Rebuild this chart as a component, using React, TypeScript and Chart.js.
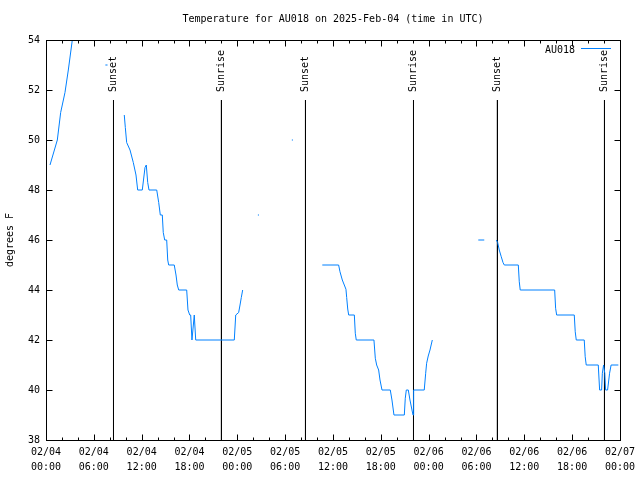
import React, { useEffect, useRef } from "react";
import { Chart, registerables } from "chart.js";

Chart.register(...registerables);

const FONT_FAMILY = '"DejaVu Sans Mono", "Liberation Mono", monospace';
const TITLE = "Temperature for AU018 on 2025-Feb-04 (time in UTC)";
const Y_TITLE = "degrees F";
const SERIES_NAME = "AU018";
const LINE_COLOR = "rgb(0,128,255)";

// hours since 02/04 00:00 UTC; null temperature = gap in the record
const hours: number[] = [
  0.5, 1.42, 1.84, 2.38, 2.8, 3.3, 3.31,
  7.45, 7.72, 7.73,
  9.82, 9.95, 10.12, 10.54, 10.95, 11.29, 11.5, 12.08, 12.42, 12.58, 12.76, 12.92, 13.89, 14.14, 14.34, 14.59, 14.71, 14.89, 15.14, 15.27, 15.39, 16.09, 16.31, 16.47, 16.65, 17.65, 17.81, 18.03, 18.15, 18.31, 18.6, 18.78, 23.62, 23.8, 24.17, 24.34, 24.5, 24.67, 24.68,
  26.58, 26.72, 26.73,
  30.84, 30.98, 30.99,
  34.66, 36.71, 36.88, 37.17, 37.42, 37.63, 37.72, 37.85, 37.97, 38.68, 38.8, 38.92, 41.14, 41.31, 41.48, 41.73, 41.9, 42.15, 43.19, 43.4, 43.65, 44.95, 45.07, 45.2, 45.45, 45.66, 45.91, 46.04, 46.12, 47.45, 47.63, 47.75, 47.95, 48.17, 48.46, 48.47,
  54.23, 54.98, 54.99,
  56.49, 56.66, 56.86, 57.11, 57.33, 57.49, 59.25, 59.37, 59.49, 63.81, 63.93, 64.06, 66.27, 66.39, 66.52, 67.52, 67.64, 67.77, 69.28, 69.45, 69.7, 69.79, 69.95, 70.1, 70.2, 70.45, 70.7, 70.89, 71.8,
];
const temps: (number | null)[] = [
  49.0, 50.0, 51.1, 51.9, 52.8, 54.0, null,
  53.0, 53.0, null,
  51.0, 50.5, 49.9, 49.6, 49.1, 48.6, 48.0, 48.0, 48.9, 49.0, 48.3, 48.0, 48.0, 47.5, 47.0, 47.0, 46.3, 46.0, 46.0, 45.2, 45.0, 45.0, 44.6, 44.2, 44.0, 44.0, 43.2, 43.0, 43.0, 42.0, 43.0, 42.0, 42.0, 43.0, 43.1, 43.4, 43.7, 44.0, null,
  47.0, 47.0, null,
  50.0, 50.0, null,
  45.0, 45.0, 44.73, 44.4, 44.2, 44.03, 43.7, 43.24, 43.0, 43.0, 42.27, 42.0, 42.0, 41.27, 41.0, 40.8, 40.4, 40.0, 40.0, 39.6, 39.0, 39.0, 39.67, 40.0, 40.0, 39.6, 39.2, 39.0, 40.0, 40.0, 40.67, 41.07, 41.36, 41.6, 42.0, null,
  46.0, 46.0, null,
  46.0, 45.9, 45.6, 45.33, 45.1, 45.0, 45.0, 44.33, 44.0, 44.0, 43.27, 43.0, 43.0, 42.33, 42.0, 42.0, 41.33, 41.0, 41.0, 40.0, 40.0, 40.67, 41.0, 40.67, 40.0, 40.0, 40.67, 41.0, 41.0,
];

const sunHours: number[] = [8.467, 22.01, 32.55, 46.1, 56.63, 70.06];
const sunLabels: string[] = ["Sunset", "Sunrise", "Sunset", "Sunrise", "Sunset", "Sunrise"];
const sunLineTop = 51.6;

const tickDates: string[] = ["02/04", "02/04", "02/04", "02/04", "02/05", "02/05", "02/05", "02/05", "02/06", "02/06", "02/06", "02/06", "02/07"];
const tickTimes: string[] = ["00:00", "06:00", "12:00", "18:00", "00:00", "06:00", "12:00", "18:00", "00:00", "06:00", "12:00", "18:00", "00:00"];

const X_MIN = 0, X_MAX = 72, X_MAJOR = 6, X_MINOR = 2;
const Y_MIN = 38, Y_MAX = 54, Y_STEP = 2;

const decorPlugin = {
  id: "decor",
  afterDraw(chart: any) {
    const ctx = chart.ctx as CanvasRenderingContext2D;
    const area = chart.chartArea;
    const xs = chart.scales.x;
    const ys = chart.scales.y;
    ctx.save();
    ctx.fillStyle = "#000";
    ctx.strokeStyle = "#000";
    ctx.lineWidth = 1;
    ctx.font = `10px ${FONT_FAMILY}`;

    // frame
    const l = Math.round(area.left) + 0.5, r = Math.round(area.right) + 0.5;
    const t = Math.round(area.top) + 0.5, b = Math.round(area.bottom) + 0.5;
    ctx.strokeRect(l, t, r - l, b - t);

    // ticks (inward, mirrored)
    ctx.beginPath();
    for (let h = X_MIN; h <= X_MAX; h += X_MINOR) {
      const px = Math.round(xs.getPixelForValue(h)) + 0.5;
      const len = h % X_MAJOR === 0 ? 6 : 3;
      ctx.moveTo(px, b); ctx.lineTo(px, b - len);
      ctx.moveTo(px, t); ctx.lineTo(px, t + len);
    }
    for (let v = Y_MIN; v <= Y_MAX; v += Y_STEP) {
      const py = Math.round(ys.getPixelForValue(v)) + 0.5;
      ctx.moveTo(l, py); ctx.lineTo(l + 6, py);
      ctx.moveTo(r, py); ctx.lineTo(r - 6, py);
    }
    ctx.stroke();

    // title
    ctx.textAlign = "center";
    ctx.textBaseline = "middle";
    ctx.fillText(TITLE, 333, 19);

    // y axis title
    ctx.save();
    ctx.translate(10, 240);
    ctx.rotate(-Math.PI / 2);
    ctx.fillText(Y_TITLE, 0, 0);
    ctx.restore();

    // sun labels
    const labelBottom = ys.getPixelForValue(sunLineTop) - 8;
    sunHours.forEach((h, i) => {
      const px = Math.round(xs.getPixelForValue(h));
      ctx.save();
      ctx.translate(px, labelBottom);
      ctx.rotate(-Math.PI / 2);
      ctx.textAlign = "left";
      ctx.textBaseline = "middle";
      ctx.fillText(sunLabels[i], 0, 0);
      ctx.restore();
    });

    // legend
    ctx.textAlign = "right";
    ctx.textBaseline = "middle";
    ctx.fillText(SERIES_NAME, 575, 50);
    ctx.strokeStyle = LINE_COLOR;
    ctx.beginPath();
    ctx.moveTo(581, 48.5);
    ctx.lineTo(611, 48.5);
    ctx.stroke();
    ctx.restore();
  },
};

export default function App() {
  const ref = useRef<HTMLCanvasElement | null>(null);
  useEffect(() => {
    if (!ref.current) return;
    const tempData = hours.map((h, i) => ({ x: h, y: temps[i] }));
    const sunData: { x: number; y: number | null }[] = [];
    sunHours.forEach((h) => {
      sunData.push({ x: h, y: sunLineTop }, { x: h, y: Y_MIN }, { x: h, y: null });
    });
    const chart = new Chart(ref.current, {
      type: "line",
      data: {
        datasets: [
          {
            label: SERIES_NAME,
            data: tempData as any,
            borderColor: LINE_COLOR,
            borderWidth: 1,
            pointRadius: 0,
            spanGaps: false,
            tension: 0,
          },
          {
            label: "sun",
            data: sunData as any,
            borderColor: "#000",
            borderWidth: 1,
            pointRadius: 0,
            spanGaps: false,
            tension: 0,
          },
        ],
      },
      options: {
        animation: false,
        responsive: false,
        maintainAspectRatio: false,
        events: [],
        layout: { padding: { left: 0, top: 40, right: 20, bottom: 0 } },
        plugins: { legend: { display: false }, title: { display: false }, tooltip: { enabled: false } },
        scales: {
          x: {
            type: "linear",
            min: X_MIN,
            max: X_MAX,
            grid: { display: false, drawTicks: false },
            border: { display: false },
            afterFit: (s: any) => { s.height = 40; },
            afterBuildTicks: (s: any) => {
              s.ticks = tickDates.map((_, i) => ({ value: X_MIN + i * X_MAJOR }));
            },
            ticks: {
              autoSkip: false,
              maxRotation: 0,
              minRotation: 0,
              padding: 5,
              color: "#000",
              font: { family: FONT_FAMILY, size: 10, lineHeight: 1.5 },
              callback: (v: any) => {
                const i = Math.round((Number(v) - X_MIN) / X_MAJOR);
                return [tickDates[i], tickTimes[i]];
              },
            },
          },
          y: {
            type: "linear",
            min: Y_MIN,
            max: Y_MAX,
            grid: { display: false, drawTicks: false },
            border: { display: false },
            afterFit: (s: any) => { s.width = 46; },
            ticks: {
              stepSize: Y_STEP,
              padding: 6,
              color: "#000",
              font: { family: FONT_FAMILY, size: 10 },
            },
          },
        },
      },
      plugins: [decorPlugin],
    });
    return () => chart.destroy();
  }, []);
  return (
    <div style={{ position: "absolute", left: 0, top: 0, width: 640, height: 480, background: "#fff" }}>
      <canvas ref={ref} width={640} height={480} />
    </div>
  );
}
